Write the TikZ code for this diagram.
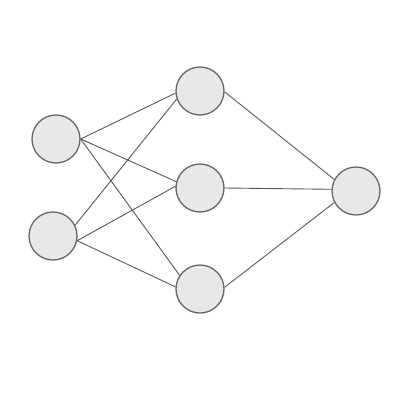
\documentclass[tikz,border=0pt]{standalone}
\begin{document}
\begin{tikzpicture}[x=1pt,y=-1pt,
  neuron/.style={circle,draw=black!60,fill=black!9,line width=1.3pt,minimum size=48pt,inner sep=0pt},
  link/.style={draw=black!65,line width=0.9pt}]
\fill[white] (0,0) rectangle (400,400);
\useasboundingbox (0,0) rectangle (400,400);
\node[neuron] (i1) at (56,139) {};
\node[neuron] (i2) at (53,236) {};
\node[neuron] (h1) at (200,91) {};
\node[neuron] (h2) at (200,188) {};
\node[neuron] (h3) at (200,289) {};
\node[neuron] (o) at (356,191) {};
\draw[link] (i1.0) -- (h1.185);
\draw[link] (i1.0) -- (h2.165);
\draw[link] (i1.0) -- (h3.146);
\draw[link] (i2.26) -- (h1.199);
\draw[link] (i2.-11) -- (h2.176);
\draw[link] (i2.-11) -- (h3.175);
\draw[link] (h1.-2) -- (o.152);
\draw[link] (h2.0) -- (o.176);
\draw[link] (h3.4) -- (o.208);
\end{tikzpicture}
\end{document}
